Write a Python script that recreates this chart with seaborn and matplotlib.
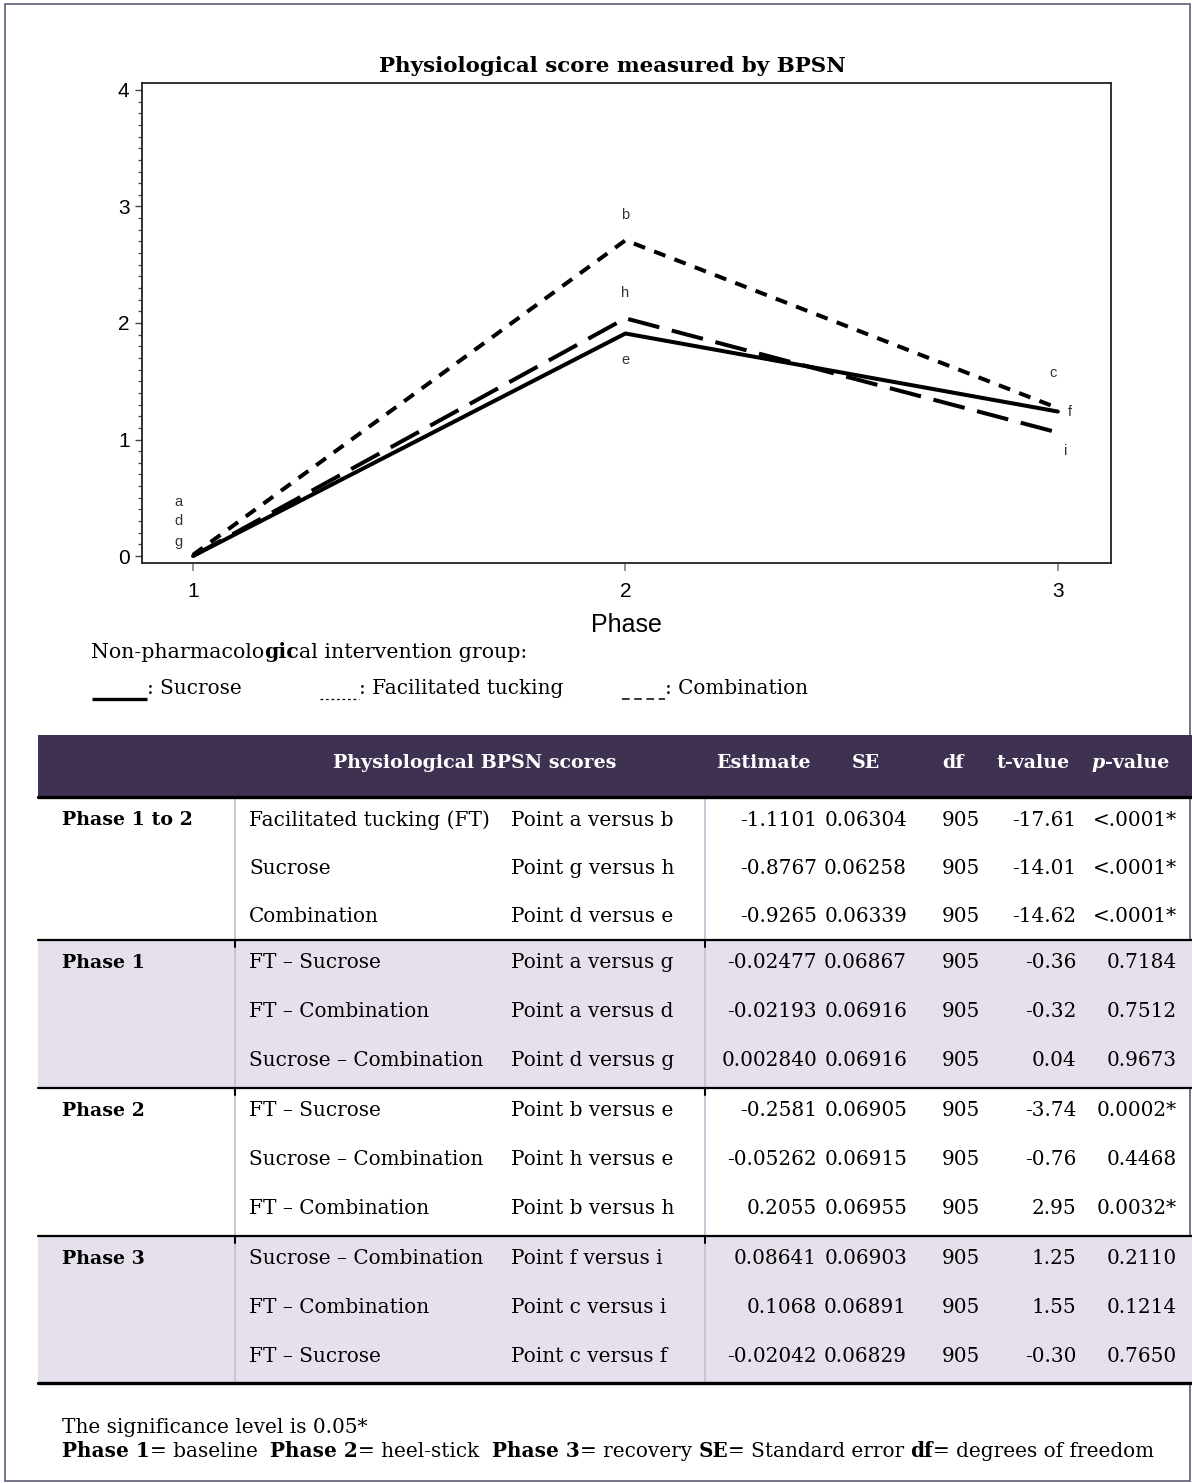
import matplotlib
matplotlib.use("Agg")
import matplotlib.pyplot as plt
from matplotlib.patches import Rectangle
from matplotlib.ticker import MultipleLocator
import pandas as pd
import seaborn as sns

# chart values
phases = [1, 2, 3]
sucrose = [0.0, 1.91, 1.24]
tucking = [0.01, 2.71, 1.27]
combination = [0.0, 2.04, 1.06]
group_names = ["Sucrose", "Facilitated tucking", "Combination"]
point_letters = {"Sucrose": ["g", "e", "f"],
                 "Facilitated tucking": ["a", "b", "c"],
                 "Combination": ["d", "h", "i"]}

# table values
table_groups = ["Phase 1 to 2", "Phase 1", "Phase 2", "Phase 3"]
comparisons = ["Facilitated tucking (FT)", "Sucrose", "Combination",
               "FT \u2013 Sucrose", "FT \u2013 Combination", "Sucrose \u2013 Combination",
               "FT \u2013 Sucrose", "Sucrose \u2013 Combination", "FT \u2013 Combination",
               "Sucrose \u2013 Combination", "FT \u2013 Combination", "FT \u2013 Sucrose"]
point_pairs = ["Point a versus b", "Point g versus h", "Point d versus e",
               "Point a versus g", "Point a versus d", "Point d versus g",
               "Point b versus e", "Point h versus e", "Point b versus h",
               "Point f versus i", "Point c versus i", "Point c versus f"]
estimates = ["-1.1101", "-0.8767", "-0.9265", "-0.02477", "-0.02193", "0.002840",
             "-0.2581", "-0.05262", "0.2055", "0.08641", "0.1068", "-0.02042"]
std_err = ["0.06304", "0.06258", "0.06339", "0.06867", "0.06916", "0.06916",
           "0.06905", "0.06915", "0.06955", "0.06903", "0.06891", "0.06829"]
dfs = ["905"] * 12
t_values = ["-17.61", "-14.01", "-14.62", "-0.36", "-0.32", "0.04",
            "-3.74", "-0.76", "2.95", "1.25", "1.55", "-0.30"]
p_values = ["<.0001*", "<.0001*", "<.0001*", "0.7184", "0.7512", "0.9673",
            "0.0002*", "0.4468", "0.0032*", "0.2110", "0.1214", "0.7650"]

df = pd.DataFrame({
    "phase": phases * 3,
    "score": sucrose + tucking + combination,
    "group": [g for g in group_names for _ in phases],
})

sns.set_theme(style="ticks")
plt.rcParams["font.family"] = ["DejaVu Serif"]
plt.rcParams["text.color"] = "black"
plt.rcParams["axes.labelcolor"] = "black"

W, H = 1192, 1483
fig = plt.figure(figsize=(W / 100, H / 100), dpi=100)
bg = fig.add_axes([0, 0, 1, 1], zorder=0)
bg.set_xlim(0, W)
bg.set_ylim(H, 0)
bg.axis("off")
bg.add_patch(Rectangle((5, 4), W - 7, H - 6, fill=False, ec="#6d6680", lw=1.3))
renderer = fig.canvas.get_renderer()


def text_width(s, **kw):
    # advance width of s, measured between two sentinels
    t1 = bg.text(0, 0, "|" + s + "|", **kw)
    t2 = bg.text(0, 0, "||", **kw)
    w = t1.get_window_extent(renderer).width - t2.get_window_extent(renderer).width
    t1.remove()
    t2.remove()
    return w


def draw_runs(x, y, parts, **kw):
    # parts: (text, weight, style)
    for s, weight, style in parts:
        bg.text(x, y, s, fontweight=weight, fontstyle=style, **kw)
        x += text_width(s, fontweight=weight, fontstyle=style, **kw)
    return x


# ---- chart ----
ax = fig.add_axes([142 / W, 1 - 563 / H, (1111 - 142) / W, (563 - 83) / H], zorder=1)
dash_map = {"Sucrose": "", "Facilitated tucking": (3.0, 2.4), "Combination": (8, 3.2)}
sns.lineplot(data=df, x="phase", y="score", style="group", style_order=group_names,
             dashes=dash_map, color="black", linewidth=2.9, errorbar=None,
             legend=False, ax=ax)
ax.set_xlim(0.882, 3.123)
ax.set_ylim(-0.06, 4.06)
ax.set_xticks(phases)
ax.set_yticks([0, 1, 2, 3, 4])
ax.yaxis.set_minor_locator(MultipleLocator(0.1))
for s in ax.spines.values():
    s.set_linewidth(1.3)
    s.set_color("#222222")
ax.tick_params(axis="x", length=6, width=1.1, color="#777777", pad=8,
               labelsize=15, labelcolor="black", labelfontfamily="Liberation Sans")
ax.tick_params(axis="y", which="major", length=5, width=1, color="#444444", pad=4,
               labelsize=15, labelcolor="black", labelfontfamily="Liberation Sans")
ax.tick_params(axis="y", which="minor", length=3, width=0.9, color="#444444")
ax.set_xlabel("Phase", fontsize=18, family="Liberation Sans", labelpad=8)
ax.set_ylabel("")

# point letters, offsets in pixels from their point
offsets = {"a": (-15, 53), "d": (-15, 35), "g": (-15, 14),
           "b": (0, 25), "h": (0, 25), "e": (0, -27),
           "c": (-5, 35), "f": (12, 0), "i": (8, -18)}
for g, vals in zip(group_names, [sucrose, tucking, combination]):
    for x, y, letter in zip(phases, vals, point_letters[g]):
        dx, dy = offsets[letter]
        ax.annotate(letter, (x, y), xytext=(dx * 0.72, dy * 0.72),
                    textcoords="offset points", ha="center", va="center",
                    fontsize=10.5, family="Liberation Sans", color="#333333")

fig.text(612 / W, 1 - 66 / H, "Physiological score measured by BPSN",
         ha="center", va="center", fontsize=15.4, fontweight="bold")

# ---- legend under chart ----
fs = 14.4
fsb = 13.7
draw_runs(91, 658, [("Non-pharmacolo", "normal", "normal"), ("gic", "bold", "normal"),
                    ("al intervention group:", "normal", "normal")],
          fontsize=14.8, va="baseline")
bg.plot([92, 147], [699, 699], color="black", lw=2.4, solid_capstyle="butt")
bg.text(147, 688, ": Sucrose", fontsize=fs, va="center")
bg.plot([320, 359], [699, 699], color="black", lw=0.9, ls=(0, (2.2, 2.2)))
bg.text(359, 688, ": Facilitated tucking", fontsize=fs, va="center")
bg.plot([622, 665], [699, 699], color="black", lw=1.1, ls=(0, (5, 3)))
bg.text(665, 688, ": Combination", fontsize=fs, va="center")

# ---- table ----
left, right = 38, W
head_top, head_bot = 735, 797
group_tops = [797, 940, 1088, 1236]
bottom = 1383
row_h = 48.5
shade = "#e5e0ec"
bg.add_patch(Rectangle((left, head_top), right - left, head_bot - head_top,
                       fc="#3f3152", ec="none"))
for k, top in enumerate(group_tops):
    end = group_tops[k + 1] if k + 1 < len(group_tops) else bottom
    if k % 2 == 1:
        bg.add_patch(Rectangle((left, top), right - left, end - top, fc=shade, ec="none"))
for xv in (235, 705):
    bg.plot([xv, xv], [head_bot, bottom], color="#c6bed6", lw=1.2)
    for top in group_tops[1:]:
        bg.plot([xv, xv], [top, top + 7], color="black", lw=1.5)
bg.plot([left, right], [head_bot, head_bot], color="black", lw=2.4)
for top in group_tops[1:]:
    bg.plot([left, right], [top, top], color="black", lw=1.6)
bg.plot([left, right], [bottom, bottom], color="black", lw=2.4)

hy = 763
bg.text(475, hy, "Physiological BPSN scores", color="white", fontweight="bold",
        fontsize=fsb, ha="center", va="center")
for xc, lab in zip([763, 866, 953, 1033], ["Estimate", "SE", "df", "t-value"]):
    bg.text(xc, hy, lab, color="white", fontweight="bold", fontsize=fsb,
            ha="center", va="center")
pw = text_width("p", fontweight="bold", fontstyle="italic", fontsize=fsb) + \
    text_width("-value", fontweight="bold", fontsize=fsb)
draw_runs(1130 - pw / 2, hy, [("p", "bold", "italic"), ("-value", "bold", "normal")],
          fontsize=fsb, color="white", va="center")

for i in range(12):
    k, r = divmod(i, 3)
    yc = group_tops[k] + 23 + row_h * r
    if r == 0:
        bg.text(62, yc, table_groups[k], fontweight="bold", fontsize=fsb, va="center")
    bg.text(249, yc, comparisons[i], fontsize=fs, va="center")
    bg.text(511, yc, point_pairs[i], fontsize=fs, va="center")
    for xr, col in zip([817, 907, 980, 1076, 1177],
                       [estimates, std_err, dfs, t_values, p_values]):
        bg.text(xr, yc, col[i], fontsize=fs, va="center", ha="right")

# ---- footnotes ----
bg.text(62, 1433, "The significance level is 0.05*", fontsize=fs, va="baseline")
draw_runs(62, 1457, [("Phase 1", "bold", "normal"), ("= baseline  ", "normal", "normal"),
                     ("Phase 2", "bold", "normal"), ("= heel-stick  ", "normal", "normal"),
                     ("Phase 3", "bold", "normal"), ("= recovery ", "normal", "normal"),
                     ("SE", "bold", "normal"), ("= Standard error ", "normal", "normal"),
                     ("df", "bold", "normal"), ("= degrees of freedom", "normal", "normal")],
          fontsize=fs, va="baseline")

fig.savefig("out.png", dpi=100, facecolor="white")
